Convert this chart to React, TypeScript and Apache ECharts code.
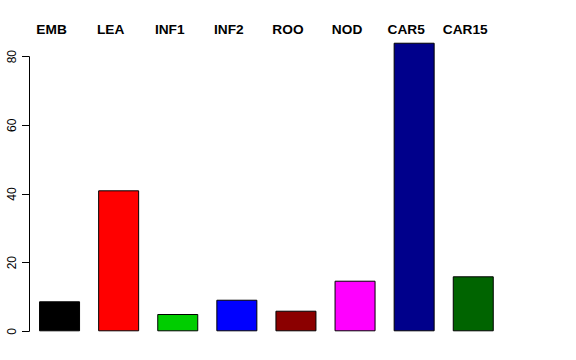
import React, { useEffect, useRef } from "react";
import * as echarts from "echarts";

const categories = ["EMB", "LEA", "INF1", "INF2", "ROO", "NOD", "CAR5", "CAR15"];
const values = [8.74, 41.07, 5.04, 9.2, 6.0, 14.74, 84.07, 16.02];
const colors = ["#000000", "#FF0000", "#00CD00", "#0000FF", "#8B0000", "#FF00FF", "#00008B", "#006400"];
const yTicks = { min: 0, max: 80, interval: 20 };

export default function App() {
  const ref = useRef<HTMLDivElement>(null);
  useEffect(() => {
    if (!ref.current) return;
    const chart = echarts.init(ref.current, undefined, { renderer: "svg" });
    chart.setOption({
      animation: false,
      backgroundColor: "#ffffff",
      textStyle: { fontFamily: "Liberation Sans, Arial, sans-serif" },
      grid: { left: 30, right: 73.2, top: 56.7, bottom: 28.7, containLabel: false },
      xAxis: {
        type: "category",
        position: "top",
        data: categories,
        axisLine: { show: false },
        axisTick: { show: false },
        axisLabel: {
          interval: 0,
          margin: 20,
          fontWeight: "bold",
          fontSize: 13.7,
          color: "#000",
          padding: [0, 16, 0, 0],
          fontFamily: "Liberation Sans, Arial, sans-serif",
        },
        splitLine: { show: false },
      },
      yAxis: {
        type: "value",
        min: yTicks.min,
        max: yTicks.max,
        interval: yTicks.interval,
        offset: 1,
        axisLine: { show: true, lineStyle: { color: "#000", width: 1 } },
        axisTick: { show: true, length: 7, lineStyle: { color: "#000" } },
        axisLabel: {
          rotate: 90,
          margin: 11,
          fontSize: 12,
          color: "#000",
          fontFamily: "Liberation Sans, Arial, sans-serif",
        },
        splitLine: { show: false },
      },
      series: [
        {
          type: "bar",
          clip: false,
          barWidth: 41,
          data: values.map((v, i) => ({
            value: v,
            itemStyle: { color: colors[i], borderColor: "#000", borderWidth: 1 },
          })),
        },
      ],
    });
    return () => chart.dispose();
  }, []);
  return (
    <div
      ref={ref}
      style={{ position: "absolute", left: 0, top: 0, width: 576, height: 360 }}
    />
  );
}
